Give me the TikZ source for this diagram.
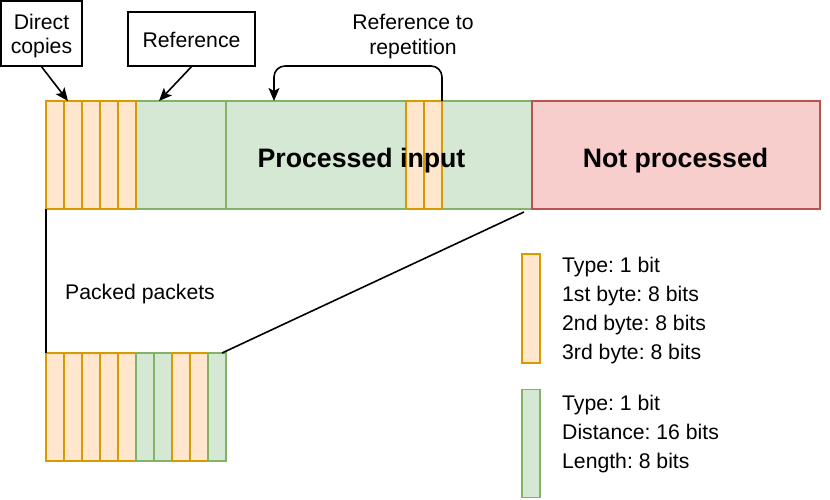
\documentclass[tikz,border=0pt]{standalone}
\usepackage{fontspec}
\setmainfont{Liberation Sans}
\usetikzlibrary{arrows.meta}
\definecolor{ofill}{HTML}{FFE6CC}
\definecolor{odraw}{HTML}{D79B00}
\definecolor{gfill}{HTML}{D5E8D4}
\definecolor{gdraw}{HTML}{82B366}
\definecolor{rfill}{HTML}{F8CECC}
\definecolor{rdraw}{HTML}{B85450}
\frenchspacing
\begin{document}
\begin{tikzpicture}[x=1pt,y=-1pt,
  cell/.style={rectangle, inner sep=0pt, outer sep=0pt, line width=1.5pt, minimum height=108pt},
  ocell/.style={cell, fill=ofill, draw=odraw, minimum width=18pt},
  gcell/.style={cell, fill=gfill, draw=gdraw},
  rcell/.style={cell, fill=rfill, draw=rdraw},
  callout/.style={rectangle, draw=black, line width=1.3pt, fill=white, inner sep=0pt},
  txt/.style={inner sep=0pt, font=\fontsize{21.2}{24}\selectfont},
  big/.style={inner sep=0pt, font=\fontsize{26.7}{30}\selectfont\bfseries},
  conn/.style={draw=black, line width=1.6pt},
  arr/.style={conn, -{Stealth[length=13pt, width=11pt, inset=3pt]}}
]
\useasboundingbox (0,0) rectangle (830,499);

% top bar
\node[gcell, minimum width=90pt] (g1) at (181,155) {};
\node[gcell, minimum width=180pt] (g2) at (316,155) {};
\node[gcell, minimum width=90pt] (g3) at (487,155) {};
\node[rcell, minimum width=288pt] (red) at (676,155) {};
\node[ocell] (c1) at (55,155) {};
\node[ocell] (c2) at (73,155) {};
\node[ocell] (c3) at (91,155) {};
\node[ocell] (c4) at (109,155) {};
\node[ocell] (c5) at (127,155) {};
\node[ocell] (r1) at (415,155) {};
\node[ocell] (r2) at (433,155) {};
\node[big, anchor=base] (pin) at (361.5,167) {Processed input};
\node[big, anchor=base] (npr) at (675.5,167) {Not processed};

% packed packets
\node[ocell] (b1) at (55,407) {};
\node[ocell] (b2) at (73,407) {};
\node[ocell] (b3) at (91,407) {};
\node[ocell] (b4) at (109,407) {};
\node[ocell] (b5) at (127,407) {};
\node[gcell, minimum width=18pt] (b6) at (145,407) {};
\node[gcell, minimum width=18pt] (b7) at (163,407) {};
\node[ocell] (b8) at (181,407) {};
\node[ocell] (b9) at (199,407) {};
\node[gcell, minimum width=18pt] (b10) at (217,407) {};
\node[txt, anchor=base west] (pp) at (65,299) {Packed packets};

% connectors to packed packets
\coordinate (diagtop) at (524,212);
\coordinate (diagbot) at (222,353);
\draw[conn] (c1.south west) -- (b1.north west);
\draw[conn] (diagtop) -- (diagbot);

% legend
\node[ocell, minimum height=109pt] (lo) at (531,308.5) {};
\node[gcell, minimum width=18pt, minimum height=108pt] (lg) at (531,443.5) {};
\node[txt, anchor=base west] (t1) at (562,272) {Type: 1 bit};
\node[txt, anchor=base west] (t2) at (562,301) {1st byte: 8 bits};
\node[txt, anchor=base west] (t3) at (562,330) {2nd byte: 8 bits};
\node[txt, anchor=base west] (t4) at (562,359) {3rd byte: 8 bits};
\node[txt, anchor=base west] (t5) at (562,410) {Type: 1 bit};
\node[txt, anchor=base west] (t6) at (562,439) {Distance: 16 bits};
\node[txt, anchor=base west] (t7) at (562,468) {Length: 8 bits};

% callouts
\node[callout, minimum width=81pt, minimum height=65pt] (dc) at (41.5,33.5) {};
\node[txt, anchor=base] (dc1) at (41.5,29.5) {Direct};
\node[txt, anchor=base] (dc2) at (41.5,53.5) {copies};
\node[callout, minimum width=127pt, minimum height=54pt] (ref) at (191.5,39) {};
\node[txt, anchor=base] (reft) at (191.5,47) {Reference};
\node[txt, anchor=base] (rr1) at (413,29) {Reference to};
\node[txt, anchor=base] (rr2) at (413,54) {repetition};

\coordinate (dctip) at (68,101);
\coordinate (reftip) at (159,101);
\coordinate (reptip) at (274,101);
\draw[arr] (dc.south) -- (dctip);
\draw[arr] (ref.south) -- (reftip);
\draw[arr, rounded corners=11pt] (r2.north east) -- ++(0,-35) -| (reptip);
\end{tikzpicture}
\end{document}
